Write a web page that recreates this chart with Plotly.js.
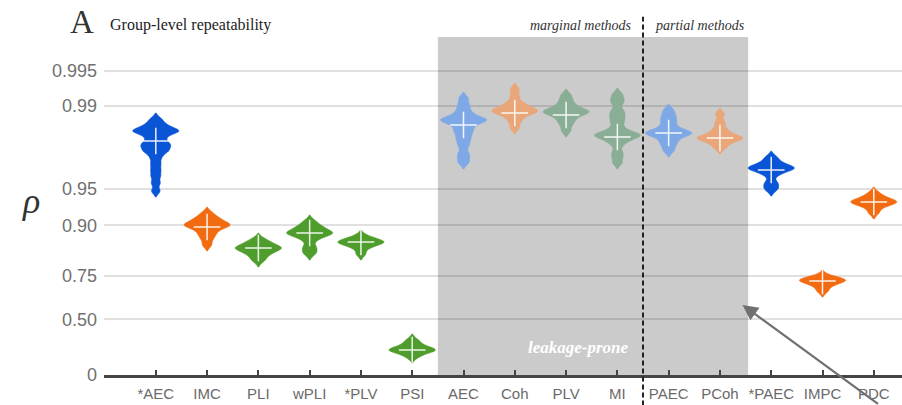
<!DOCTYPE html>
<html>
<head>
<meta charset="utf-8">
<script src="https://cdn.plot.ly/plotly-3.0.1.min.js"></script>
<style>
  html, body { margin: 0; padding: 0; background: #ffffff; }
  #chart { width: 902px; height: 405px; }
</style>
</head>
<body>
<div id="chart"></div>
<script>
// ---- Data (group-level repeatability, rho) ----
const categories = ['*AEC','IMC','PLI','wPLI','*PLV','PSI','AEC','Coh','PLV','MI','PAEC','PCoh','*PAEC','IMPC','PDC'];

const samples_starAEC = [0.98713,0.98608,0.98523,0.98465,0.98404,0.98372,0.98372,0.98340,0.98274,0.98170,0.98060,0.97942,0.97860,0.97819,0.97687,0.97596,0.97500,0.97247,0.96907,0.96524,0.96098,0.95533,0.94790];
const samples_IMC     = [0.92080,0.91458,0.91131,0.90791,0.90439,0.90074,0.90074,0.90074,0.89696,0.89304,0.88694,0.88044,0.87127,0.85629];
const samples_PLI     = [0.87127,0.86395,0.85896,0.85362,0.84828,0.84828,0.84828,0.84258,0.83687,0.83080,0.82146,0.80821];
const samples_wPLI    = [0.90791,0.90074,0.89696,0.89304,0.88897,0.88477,0.88477,0.88477,0.88044,0.87594,0.86894,0.85362,0.84258,0.83080];
const samples_starPLV = [0.87827,0.87127,0.86645,0.86395,0.86395,0.86146,0.85629,0.84828,0.83080];
const samples_PSI     = [0.33148,0.29601,0.26876,0.25041,0.24114,0.24114,0.23188,0.21317,0.17527];
const samples_AEC     = [0.99147,0.99040,0.98941,0.98855,0.98786,0.98737,0.98688,0.98688,0.98688,0.98635,0.98581,0.98494,0.98404,0.98307,0.98170,0.98020,0.97819,0.97500,0.97247,0.96965];
const samples_Coh     = [0.99285,0.99180,0.99077,0.99021,0.98982,0.98941,0.98899,0.98899,0.98899,0.98855,0.98809,0.98737,0.98635,0.98465];
const samples_PLV     = [0.99196,0.99113,0.99040,0.98982,0.98941,0.98899,0.98878,0.98878,0.98855,0.98809,0.98737,0.98661,0.98552,0.98371];
const samples_MI      = [0.99211,0.99130,0.99058,0.98920,0.98832,0.98737,0.98635,0.98494,0.98371,0.98307,0.98240,0.98240,0.98240,0.98170,0.98097,0.98020,0.97860,0.97550,0.97299,0.96965];
const samples_PAEC    = [0.98920,0.98809,0.98713,0.98608,0.98494,0.98404,0.98340,0.98307,0.98307,0.98274,0.98206,0.98097,0.97981,0.97819,0.97596];
const samples_PCoh    = [0.98832,0.98635,0.98465,0.98340,0.98240,0.98170,0.98133,0.98133,0.98097,0.98020,0.97902,0.97733];
const samples_starPAEC= [0.97299,0.97080,0.96907,0.96783,0.96658,0.96658,0.96658,0.96524,0.96389,0.96171,0.95617,0.95267,0.94889];
const samples_IMPC    = [0.75062,0.73736,0.73294,0.73294,0.72825,0.71886,0.70425,0.67865];
const samples_PDC     = [0.94587,0.94157,0.93930,0.93694,0.93572,0.93572,0.93449,0.93195,0.92798,0.92080];

const medians = [0.98020,0.89696,0.84828,0.88477,0.86395,0.24114,0.98552,0.98855,0.98809,0.98170,0.98307,0.98133,0.96524,0.72825,0.93572];

const tickValuesRho = [0, 0.50, 0.75, 0.90, 0.95, 0.99, 0.995];
const tickLabels    = ['0','0.50','0.75','0.90','0.95','0.99','0.995'];

// ---- Styling ----
const DARK_BLUE = '#0a55d6', ORANGE = '#f26b10', GREEN = '#4e9d2d';
const LIGHT_BLUE = '#7ea8e6', LIGHT_ORANGE = '#e9a678', GRAY_GREEN = '#89ad95';
const colors = [DARK_BLUE, ORANGE, GREEN, GREEN, GREEN, GREEN,
                LIGHT_BLUE, LIGHT_ORANGE, GRAY_GREEN, GRAY_GREEN, LIGHT_BLUE, LIGHT_ORANGE,
                DARK_BLUE, ORANGE, ORANGE];

const allSamples = [samples_starAEC, samples_IMC, samples_PLI, samples_wPLI, samples_starPLV, samples_PSI,
                    samples_AEC, samples_Coh, samples_PLV, samples_MI, samples_PAEC, samples_PCoh,
                    samples_starPAEC, samples_IMPC, samples_PDC];

// Fisher z scale (axis is linear in atanh(rho))
const fz = r => Math.atanh(r);

const traces = allSamples.map((s, i) => ({
  type: 'violin',
  x: s.map(() => categories[i]),
  y: s.map(fz),
  name: categories[i],
  width: 0.9,
  scalemode: 'width',
  spanmode: 'soft',
  bandwidth: 0.029,
  points: false,
  box: { visible: false },
  meanline: { visible: false },
  fillcolor: colors[i],
  line: { color: colors[i], width: 0.5 },
  opacity: 1,
  hoverinfo: 'skip',
  showlegend: false
}));

traces.push({
  type: 'scatter',
  mode: 'markers',
  x: categories,
  y: medians.map(fz),
  marker: { symbol: 'cross-thin', size: 19, color: 'rgba(255,255,255,0.9)',
            line: { color: 'rgba(255,255,255,0.9)', width: 1.5 } },
  hoverinfo: 'skip',
  showlegend: false
});

const serif = 'Liberation Serif, Times New Roman, serif';

const layout = {
  width: 902, height: 405,
  margin: { l: 104, r: 0, t: 37, b: 30, pad: 0 },
  paper_bgcolor: '#ffffff', plot_bgcolor: 'rgba(0,0,0,0)',
  violinmode: 'overlay', violingap: 0, violingroupgap: 0,
  showlegend: false,
  xaxis: {
    type: 'category',
    categoryorder: 'array', categoryarray: categories,
    range: [-1.01, 14.55],
    showgrid: false, zeroline: false,
    showline: true, linecolor: '#454545', linewidth: 3,
    ticks: 'inside', ticklen: 5, tickwidth: 2, tickcolor: '#454545',
    ticklabelstandoff: 3,
    tickfont: { family: 'Liberation Sans, Arial, sans-serif', size: 15, color: '#6a6a6a' },
    fixedrange: true
  },
  yaxis: {
    range: [0, 3.327],
    tickmode: 'array',
    tickvals: tickValuesRho.map(fz),
    ticktext: tickLabels,
    showgrid: true, gridcolor: 'rgba(0,0,0,0.12)', gridwidth: 2,
    zeroline: false, showline: false, ticks: '',
    ticklabelstandoff: 6,
    tickfont: { family: 'Liberation Sans, Arial, sans-serif', size: 18, color: '#707070' },
    fixedrange: true
  },
  shapes: [
    { type: 'rect', xref: 'x', yref: 'paper', x0: 5.5, x1: 11.55, y0: 0, y1: 1,
      fillcolor: '#cbcbcb', line: { width: 0 }, layer: 'below' },
    { type: 'line', xref: 'x', yref: 'paper', x0: 9.5, x1: 9.5, y0: -0.09, y1: 1.06,
      line: { color: '#222222', width: 2, dash: '5px,3px' }, layer: 'above' }
  ],
  annotations: [
    { xref: 'paper', yref: 'paper', x: -0.045, y: 1.045, xanchor: 'left', yanchor: 'middle',
      text: 'A', showarrow: false, font: { family: serif, size: 33, color: '#333333' } },
    { xref: 'paper', yref: 'paper', x: 0.005, y: 1.035, xanchor: 'left', yanchor: 'middle',
      text: 'Group-level repeatability', showarrow: false, font: { family: serif, size: 16, color: '#222222' } },
    { xref: 'x', yref: 'paper', x: 9.32, y: 1.035, xanchor: 'right', yanchor: 'middle',
      text: '<i>marginal methods</i>', showarrow: false, font: { family: serif, size: 14, color: '#333333' } },
    { xref: 'x', yref: 'paper', x: 9.7, y: 1.035, xanchor: 'left', yanchor: 'middle',
      text: '<i>partial methods</i>', showarrow: false, font: { family: serif, size: 14, color: '#333333' } },
    { xref: 'x', yref: 'paper', x: 9.27, y: 0.082, xanchor: 'right', yanchor: 'middle',
      text: '<b><i>leakage-prone</i></b>', showarrow: false, font: { family: serif, size: 17, color: '#ffffff' } },
    { xref: 'paper', yref: 'paper', x: -0.092, y: 0.515, xanchor: 'center', yanchor: 'middle',
      text: '<i>ρ</i>', showarrow: false, font: { family: serif, size: 36, color: '#333333' } },
    { xref: 'x', yref: 'y', x: 11.44, y: 0.689, text: '', showarrow: true,
      ax: 137, ay: 100, arrowhead: 2, arrowsize: 1.4, arrowwidth: 2.2, arrowcolor: '#707070' }
  ]
};

Plotly.newPlot('chart', traces, layout, { staticPlot: true, displayModeBar: false });
</script>
</body>
</html>
